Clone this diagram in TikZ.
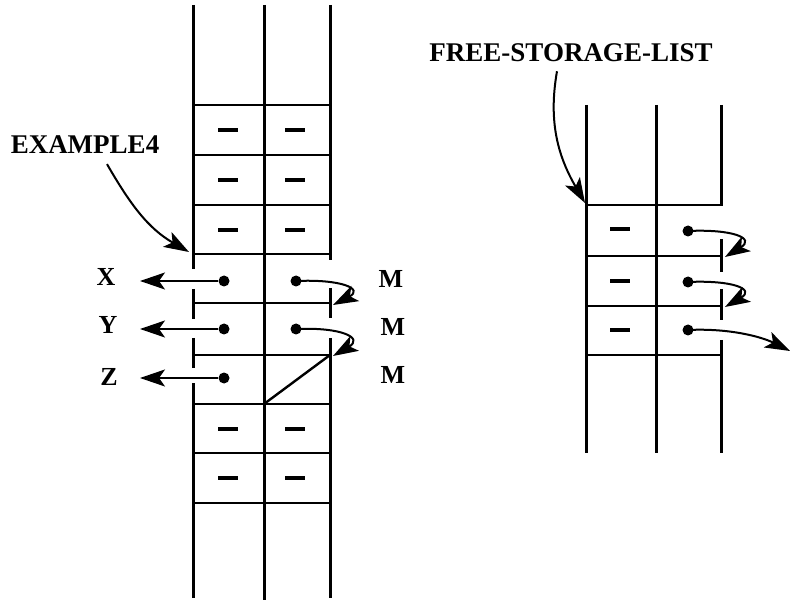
\documentclass[tikz,border=0pt]{standalone}
\usepackage{fontspec}
\setmainfont{Liberation Serif}
\usetikzlibrary{arrows.meta}
\begin{document}
\begin{tikzpicture}[x=1pt,y=-1pt,
  wall/.style={line width=3pt},
  rule/.style={line width=2.4pt},
  ptr/.style={line width=2pt,-{Stealth[length=25pt,width=17pt,inset=6pt]}},
  dot/.style={circle,fill,inner sep=0pt,minimum size=11pt},
  dashmark/.style={line width=4.5pt},
  lbl/.style={font=\bfseries\fontsize{26}{30}\selectfont,inner sep=0pt},
  biglbl/.style={font=\bfseries\fontsize{27}{32}\selectfont,inner sep=0pt}]
\useasboundingbox (0,0) rectangle (792,601);
% ---------- left structure ----------
\draw[wall] (193,5) -- (193,269) (193,289) -- (193,319) (193,338) -- (193,368) (193,383) -- (193,598);
\draw[wall] (264,5) -- (264,600);
\draw[wall] (330,5) -- (330,260) (330,288) -- (330,318) (330,338) -- (330,598);
\foreach \y in {105,155,205,254,303,355,404,453,503} \draw[rule] (193,\y) -- (330,\y);
\foreach \y in {130,180,230,429,478} {\draw[dashmark] (218,\y) -- (238,\y); \draw[dashmark] (285,\y) -- (305,\y);}
\coordinate (diagA) at (264,404);
\coordinate (diagB) at (330,355);
\draw[rule] (diagA) -- (diagB);
\node[dot] (lx) at (224,281) {};
\node[dot] (rx) at (296,281) {};
\node[dot] (ly) at (224,329) {};
\node[dot] (ry) at (296,329) {};
\node[dot] (lz) at (224,378) {};
\node[lbl] (X) at (106,277) {X};
\node[lbl] (Y) at (108,325) {Y};
\node[lbl] (Z) at (109,377) {Z};
\node[lbl] (M1) at (391,279) {M};
\node[lbl] (M2) at (393,327) {M};
\node[lbl] (M3) at (393,375) {M};
\coordinate (tx) at (140,281);
\coordinate (ty) at (140,329);
\coordinate (tz) at (140,378);
\draw[ptr] (lx) -- (tx);
\draw[ptr] (ly) -- (ty);
\draw[ptr] (lz) -- (tz);
\coordinate (c1) at (333,305);
\coordinate (c2) at (333,356);
\draw[ptr] (rx.center) .. controls (342,279) and (364,289) .. (c1);
\draw[ptr] (ry.center) .. controls (342,327) and (364,338) .. (c2);
\node[biglbl] (EX) at (85,145) {EXAMPLE4};
\coordinate (extip) at (189,252);
\draw[ptr] ([xshift=22pt,yshift=-10pt]EX.south) to[out=-60,in=150] (extip);
% ---------- right structure ----------
\draw[wall] (586,105) -- (586,453);
\draw[wall] (656,105) -- (656,453);
\draw[wall] (721,105) -- (721,206) (721,239) -- (721,272) (721,289) -- (721,320) (721,340) -- (721,453);
\foreach \y in {205,256,306,355} \draw[rule] (586,\y) -- (721,\y);
\foreach \y in {229,281,330} \draw[dashmark] (610,\y) -- (630,\y);
\node[dot] (f1) at (688,231) {};
\node[dot] (f2) at (688,282) {};
\node[dot] (f3) at (688,330) {};
\coordinate (g1) at (725,257);
\coordinate (g2) at (725,307);
\coordinate (g3) at (790,351);
\draw[ptr] (f1.center) .. controls (732,229) and (756,238) .. (g1);
\draw[ptr] (f2.center) .. controls (732,280) and (756,289) .. (g2);
\draw[ptr] (f3.center) .. controls (730,328) and (762,337) .. (g3);
\node[biglbl] (FS) at (571,53) {FREE-STORAGE-LIST};
\coordinate (fstip) at (585,203);
\draw[ptr] ([xshift=-14pt,yshift=-9pt]FS.south) to[out=-100,in=120] (fstip);
\end{tikzpicture}
\end{document}
